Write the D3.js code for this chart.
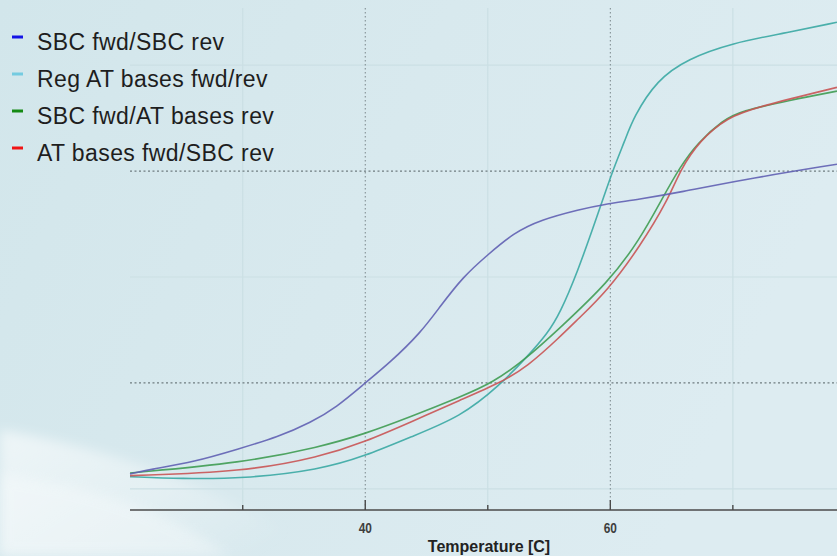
<!DOCTYPE html>
<html>
<head>
<meta charset="utf-8">
<script src="https://cdn.jsdelivr.net/npm/d3@7"></script>
<style>
  html, body { margin: 0; padding: 0; background: #d7e9ed; }
  svg { display: block; }
</style>
</head>
<body>
<svg id="chart" width="837" height="556"></svg>
<script>
// ---- data (temperature in °C, signal in arbitrary units) ----
const seriesNames = ["SBC fwd/SBC rev", "Reg AT bases fwd/rev", "SBC fwd/AT bases rev", "AT bases fwd/SBC rev"];

const sbcSbcTemp  = [20.8, 22.3, 26.1, 29.6, 32.9, 35.6, 37.6, 40.0, 42.0, 44.5, 46.1, 48.0, 50.0, 52.1, 54.3, 57.6, 59.2, 62.4, 65.7, 70.6, 78.5];
const sbcSbcVal   = [22.8, 23.6, 25.1, 27.5, 29.8, 32.6, 35.3, 40.0, 43.8, 49.4, 54.4, 60.1, 64.2, 68.3, 70.8, 72.8, 73.6, 74.7, 76.0, 78.3, 81.3];

const regAtTemp   = [20.8, 25.0, 30.0, 36.3, 40.0, 43.7, 47.8, 51.0, 53.2, 54.9, 55.9, 57.3, 58.9, 60.2, 61.2, 61.9, 63.8, 66.3, 70.0, 74.1, 78.5];
const regAtVal    = [22.3, 21.9, 21.9, 23.6, 26.2, 29.8, 33.6, 39.6, 44.9, 49.4, 53.2, 60.8, 71.3, 80.2, 85.8, 90.2, 97.2, 101.2, 104.2, 106.0, 108.1];

const sbcAtTemp   = [20.8, 30.0, 36.3, 40.0, 43.7, 47.8, 50.4, 53.2, 55.9, 59.8, 62.4, 64.3, 65.7, 67.1, 69.2, 70.6, 74.7, 78.5];
const sbcAtVal    = [23.0, 24.9, 27.9, 30.4, 33.6, 37.4, 40.0, 44.7, 50.4, 58.9, 67.0, 75.1, 80.8, 85.3, 89.6, 91.3, 93.4, 95.1];

const atSbcTemp   = [20.8, 30.0, 36.3, 40.0, 43.7, 47.8, 51.0, 53.2, 55.9, 57.3, 59.8, 62.4, 64.7, 65.7, 67.3, 69.6, 72.0, 78.5];
const atSbcVal    = [22.5, 23.2, 26.0, 28.9, 32.6, 36.8, 40.0, 43.0, 48.7, 51.9, 57.5, 65.7, 74.5, 80.2, 85.8, 90.2, 92.1, 95.8];

const lineColors   = ["#6060b2", "#3aa9a3", "#3f9c52", "#c95454"];
const legendColors = ["#1414e6", "#74cbe0", "#148a14", "#f01414"];

const xTicks       = [30, 40, 50, 60, 70];
const xTickLabels  = ["", "40", "", "60", ""];
const majorGridX   = [40, 60];
const minorGridX   = [30, 50, 70];
const majorGridY   = [40, 80];
const minorGridY   = [20, 60, 100];
const xLabel = "Temperature [C]";
const xDomain = [20.8, 78.5];
const yDomain = [16, 112.3];

// ---- layout ----
const W = 837, H = 556;
const plot = {left: 130, right: 837, top: 0, bottom: 510};

const svg = d3.select("#chart");
const defs = svg.append("defs");

// background
const bg = defs.append("linearGradient").attr("id", "bg").attr("x1", "0").attr("y1", "0").attr("x2", "1").attr("y2", "0.3");
bg.append("stop").attr("offset", "0").attr("stop-color", "#d2e6eb");
bg.append("stop").attr("offset", "0.5").attr("stop-color", "#d8e9ee");
bg.append("stop").attr("offset", "1").attr("stop-color", "#ddecf1");
svg.append("rect").attr("width", W).attr("height", H).attr("fill", "url(#bg)");

const sw = defs.append("linearGradient").attr("id", "sw").attr("x1", "0").attr("y1", "0").attr("x2", "1").attr("y2", "0.6");
sw.append("stop").attr("offset", "0").attr("stop-color", "#ffffff").attr("stop-opacity", 0.6);
sw.append("stop").attr("offset", "0.6").attr("stop-color", "#ffffff").attr("stop-opacity", 0.3);
sw.append("stop").attr("offset", "1").attr("stop-color", "#ffffff").attr("stop-opacity", 0);
defs.append("filter").attr("id", "blur").append("feGaussianBlur").attr("stdDeviation", 6);
svg.append("path")
  .attr("d", "M0,430 C90,445 200,475 330,556 L0,556 Z")
  .attr("fill", "url(#sw)").attr("filter", "url(#blur)");
svg.append("path")
  .attr("d", "M0,475 C80,485 160,505 230,556 L0,556 Z")
  .attr("fill", "#ffffff").attr("opacity", 0.3).attr("filter", "url(#blur)");

// scales
const x = d3.scaleLinear().domain(xDomain).range([plot.left, plot.right]);
const y = d3.scaleLinear().domain(yDomain).range([plot.bottom, plot.top]);

// faint minor grid
const g = svg.append("g");
g.selectAll("line.mgx").data(minorGridX).join("line")
  .attr("x1", d => x(d)).attr("x2", d => x(d)).attr("y1", 8).attr("y2", plot.bottom)
  .attr("stroke", "#cbdfe4").attr("stroke-width", 1.2);
g.selectAll("line.mgy").data(minorGridY).join("line")
  .attr("y1", d => y(d)).attr("y2", d => y(d)).attr("x1", plot.left).attr("x2", plot.right)
  .attr("stroke", "#cbdfe4").attr("stroke-width", 1.2);

// dotted major grid
g.selectAll("line.Mgx").data(majorGridX).join("line")
  .attr("x1", d => x(d)).attr("x2", d => x(d)).attr("y1", 8).attr("y2", plot.bottom)
  .attr("stroke", "#7a878b").attr("stroke-width", 1).attr("stroke-dasharray", "1.5,2.5");
g.selectAll("line.Mgy").data(majorGridY).join("line")
  .attr("y1", d => y(d)).attr("y2", d => y(d)).attr("x1", plot.left).attr("x2", plot.right)
  .attr("stroke", "#6f7c80").attr("stroke-width", 1.3).attr("stroke-dasharray", "2,2.5");

// curves
const series = [
  {t: sbcSbcTemp, v: sbcSbcVal},
  {t: regAtTemp,  v: regAtVal},
  {t: sbcAtTemp,  v: sbcAtVal},
  {t: atSbcTemp,  v: atSbcVal}
];
const line = d3.line().x(d => x(d[0])).y(d => y(d[1])).curve(d3.curveBasis);
const drawOrder = [1, 2, 3, 0];
drawOrder.forEach(i => {
  const s = series[i];
  svg.append("path")
    .datum(s.t.map((t, k) => [t, s.v[k]]))
    .attr("d", line)
    .attr("fill", "none")
    .attr("stroke", lineColors[i])
    .attr("stroke-width", 1.6)
    .attr("stroke-opacity", 0.9);
});

// x axis
const axisG = svg.append("g").attr("transform", `translate(0,${plot.bottom})`);
axisG.append("line").attr("x1", plot.left).attr("x2", plot.right).attr("y1", 0).attr("y2", 0)
  .attr("stroke", "#4a4a4a").attr("stroke-width", 1.6);
axisG.selectAll("line.tick").data(xTicks).join("line")
  .attr("x1", d => x(d)).attr("x2", d => x(d))
  .attr("y1", 0).attr("y2", (d, i) => xTickLabels[i] ? -10 : -5)
  .attr("stroke", "#4a4a4a").attr("stroke-width", 1.4);
axisG.selectAll("text.tl").data(xTicks.filter((d, i) => xTickLabels[i])).join("text")
  .attr("x", d => x(d)).attr("y", 23)
  .attr("text-anchor", "middle")
  .attr("font-family", "Liberation Sans, Arial, sans-serif")
  .attr("font-weight", "bold").attr("font-size", 14)
  .attr("fill", "#3e3e3e")
  .attr("transform", d => `translate(${x(d)},23) scale(0.85,1.1) translate(${-x(d)},-23)`)
  .text(d => xTickLabels[xTicks.indexOf(d)]);
svg.append("text")
  .attr("x", 489).attr("y", 552)
  .attr("text-anchor", "middle")
  .attr("font-family", "Liberation Sans, Arial, sans-serif")
  .attr("font-weight", "bold").attr("font-size", 16)
  .attr("fill", "#222")
  .text(xLabel);

// legend
const leg = svg.append("g");
const legBase = [50, 87, 124, 161];
seriesNames.forEach((name, i) => {
  leg.append("line")
    .attr("x1", 12).attr("x2", 23)
    .attr("y1", legBase[i] - 13).attr("y2", legBase[i] - 13)
    .attr("stroke", legendColors[i]).attr("stroke-width", 3);
  leg.append("text")
    .attr("x", 37).attr("y", legBase[i])
    .attr("font-family", "Liberation Sans, Arial, sans-serif")
    .attr("font-size", 23)
    .attr("letter-spacing", 0.4)
    .attr("fill", "#1e1e1e")
    .text(name);
});
</script>
</body>
</html>
